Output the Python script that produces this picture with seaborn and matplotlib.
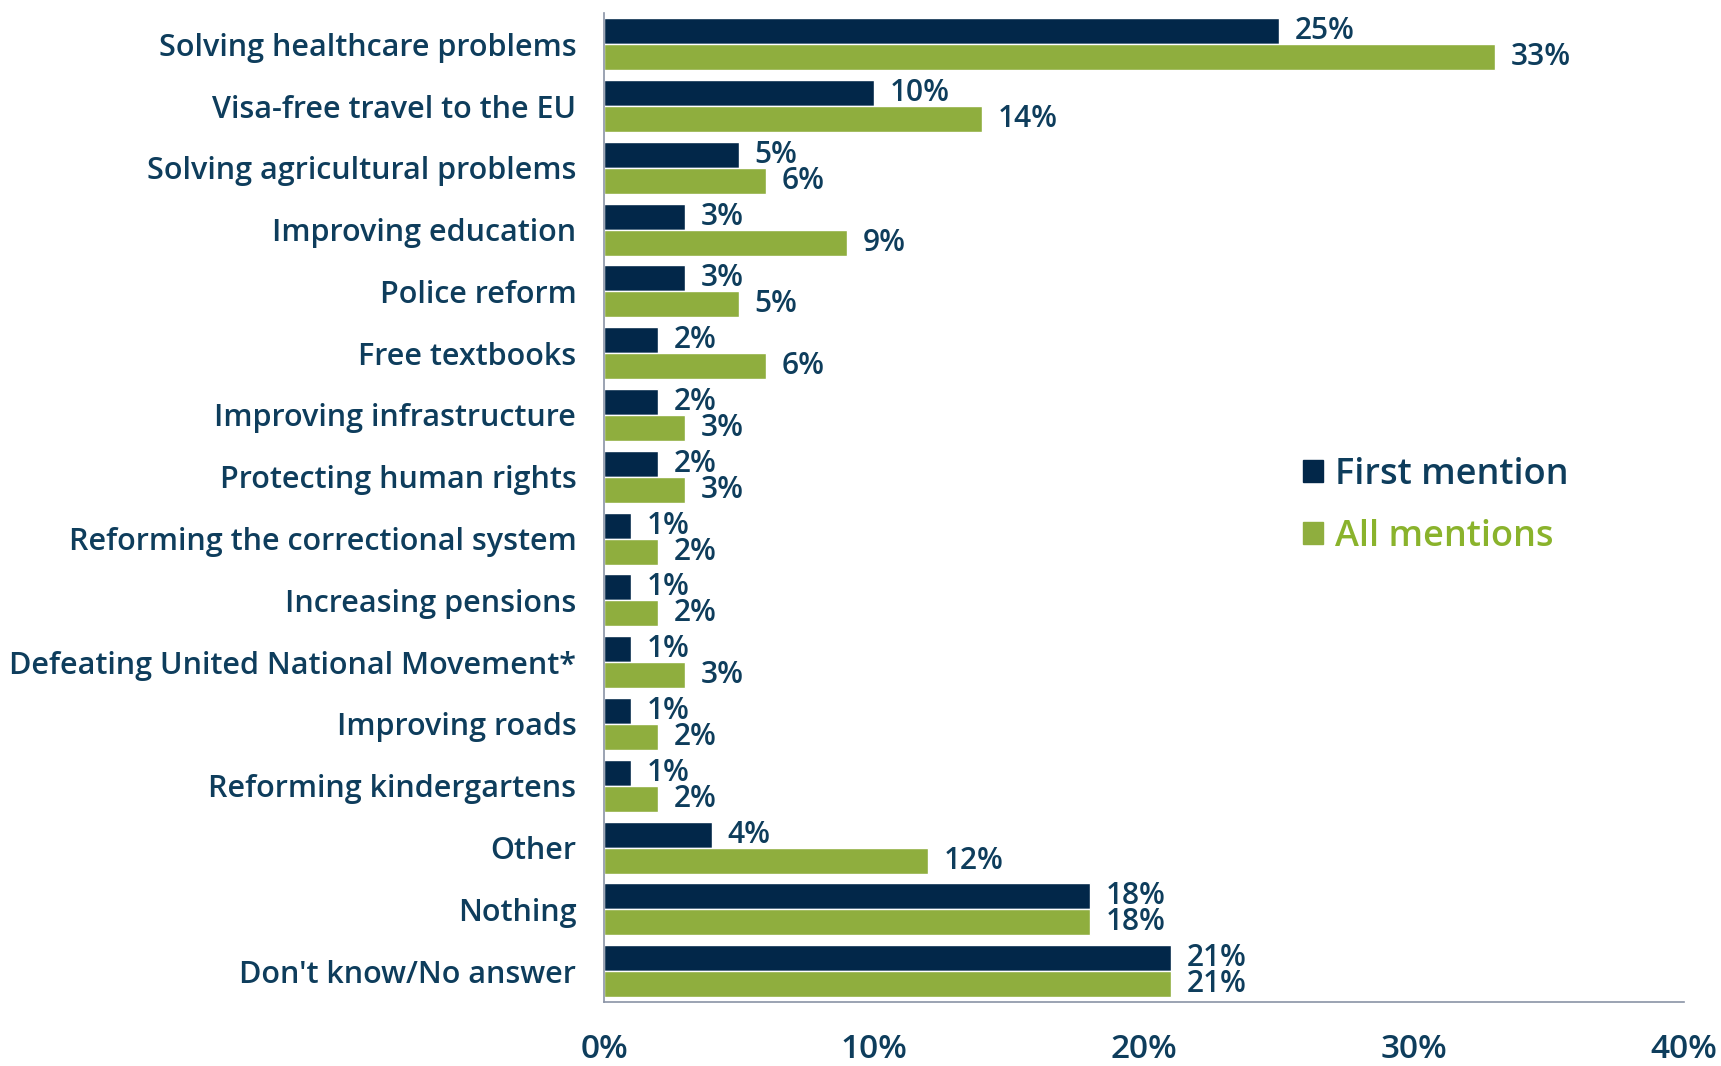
import pandas as pd
import matplotlib.pyplot as plt
import seaborn as sns
from matplotlib.patches import Patch
from matplotlib.ticker import FuncFormatter

categories = [
    "Solving healthcare problems",
    "Visa-free travel to the EU",
    "Solving agricultural problems",
    "Improving education",
    "Police reform",
    "Free textbooks",
    "Improving infrastructure",
    "Protecting human rights",
    "Reforming the correctional system",
    "Increasing pensions",
    "Defeating United National Movement*",
    "Improving roads",
    "Reforming kindergartens",
    "Other",
    "Nothing",
    "Don't know/No answer",
]
first_mention = [25, 10, 5, 3, 3, 2, 2, 2, 1, 1, 1, 1, 1, 4, 18, 21]
all_mentions = [33, 14, 6, 9, 5, 6, 3, 3, 2, 2, 3, 2, 2, 12, 18, 21]
series_names = ["First mention", "All mentions"]

NAVY = "#022749"
GREEN = "#8FAE3E"
TEXT = "#0E3D5C"
LEGEND_GREEN = "#8AB32C"

df = pd.DataFrame({
    "cat": categories * 2,
    "value": first_mention + all_mentions,
    "series": [series_names[0]] * len(categories) + [series_names[1]] * len(categories),
})

sns.set_style("white")
plt.rcParams["font.family"] = ["Open Sans", "DejaVu Sans"]

fig = plt.figure(figsize=(17.21, 10.66), dpi=100)
ax = fig.add_axes([0.351, 0.060, 0.6275, 0.9275])

# barras agrupadas: primeira menção / todas as menções
sns.barplot(data=df, y="cat", x="value", hue="series", order=categories,
            hue_order=series_names, palette=[NAVY, GREEN], width=0.84,
            orient="h", ax=ax, legend=False, saturation=1)

for cont in ax.containers:
    ax.bar_label(cont, labels=[f"{int(v)}%" for v in cont.datavalues],
                 padding=11, fontsize=21.5, fontweight="semibold", color=TEXT)

ax.set_xlim(0, 40)
ax.set_ylim(len(categories) - 0.5, -0.5)
ax.set_xticks([0, 10, 20, 30, 40])
ax.xaxis.set_major_formatter(FuncFormatter(lambda v, p: f"{int(v)}%"))
ax.set_xlabel("")
ax.set_ylabel("")

ax.tick_params(axis="x", which="major", length=12, width=1.2, color="#8A94A6",
               direction="out", pad=10, labelsize=24, labelcolor=TEXT)
ax.tick_params(axis="y", which="major", length=0, pad=20, labelsize=22,
               labelcolor=TEXT)
for lab in ax.get_xticklabels() + ax.get_yticklabels():
    lab.set_fontweight("semibold")

# pequenos traços entre as categorias
ax.set_yticks([i - 0.5 for i in range(len(categories) + 1)], minor=True)
ax.tick_params(axis="y", which="minor", length=9, width=1.2, color="#8A94A6",
               direction="out")

for side in ["top", "right"]:
    ax.spines[side].set_visible(False)
for side in ["left", "bottom"]:
    ax.spines[side].set_color("#8A94A6")
    ax.spines[side].set_linewidth(1.2)

handles = [Patch(color=NAVY), Patch(color=GREEN)]
leg = ax.legend(handles, series_names, loc="upper left",
                bbox_to_anchor=(0.617, 0.584), frameon=False,
                handlelength=0.55, handleheight=0.55, handletextpad=0.35,
                labelspacing=0.72, prop={"size": 26, "weight": "semibold"},
                labelcolor=[TEXT, LEGEND_GREEN])

fig.savefig("out.png", dpi=100)
